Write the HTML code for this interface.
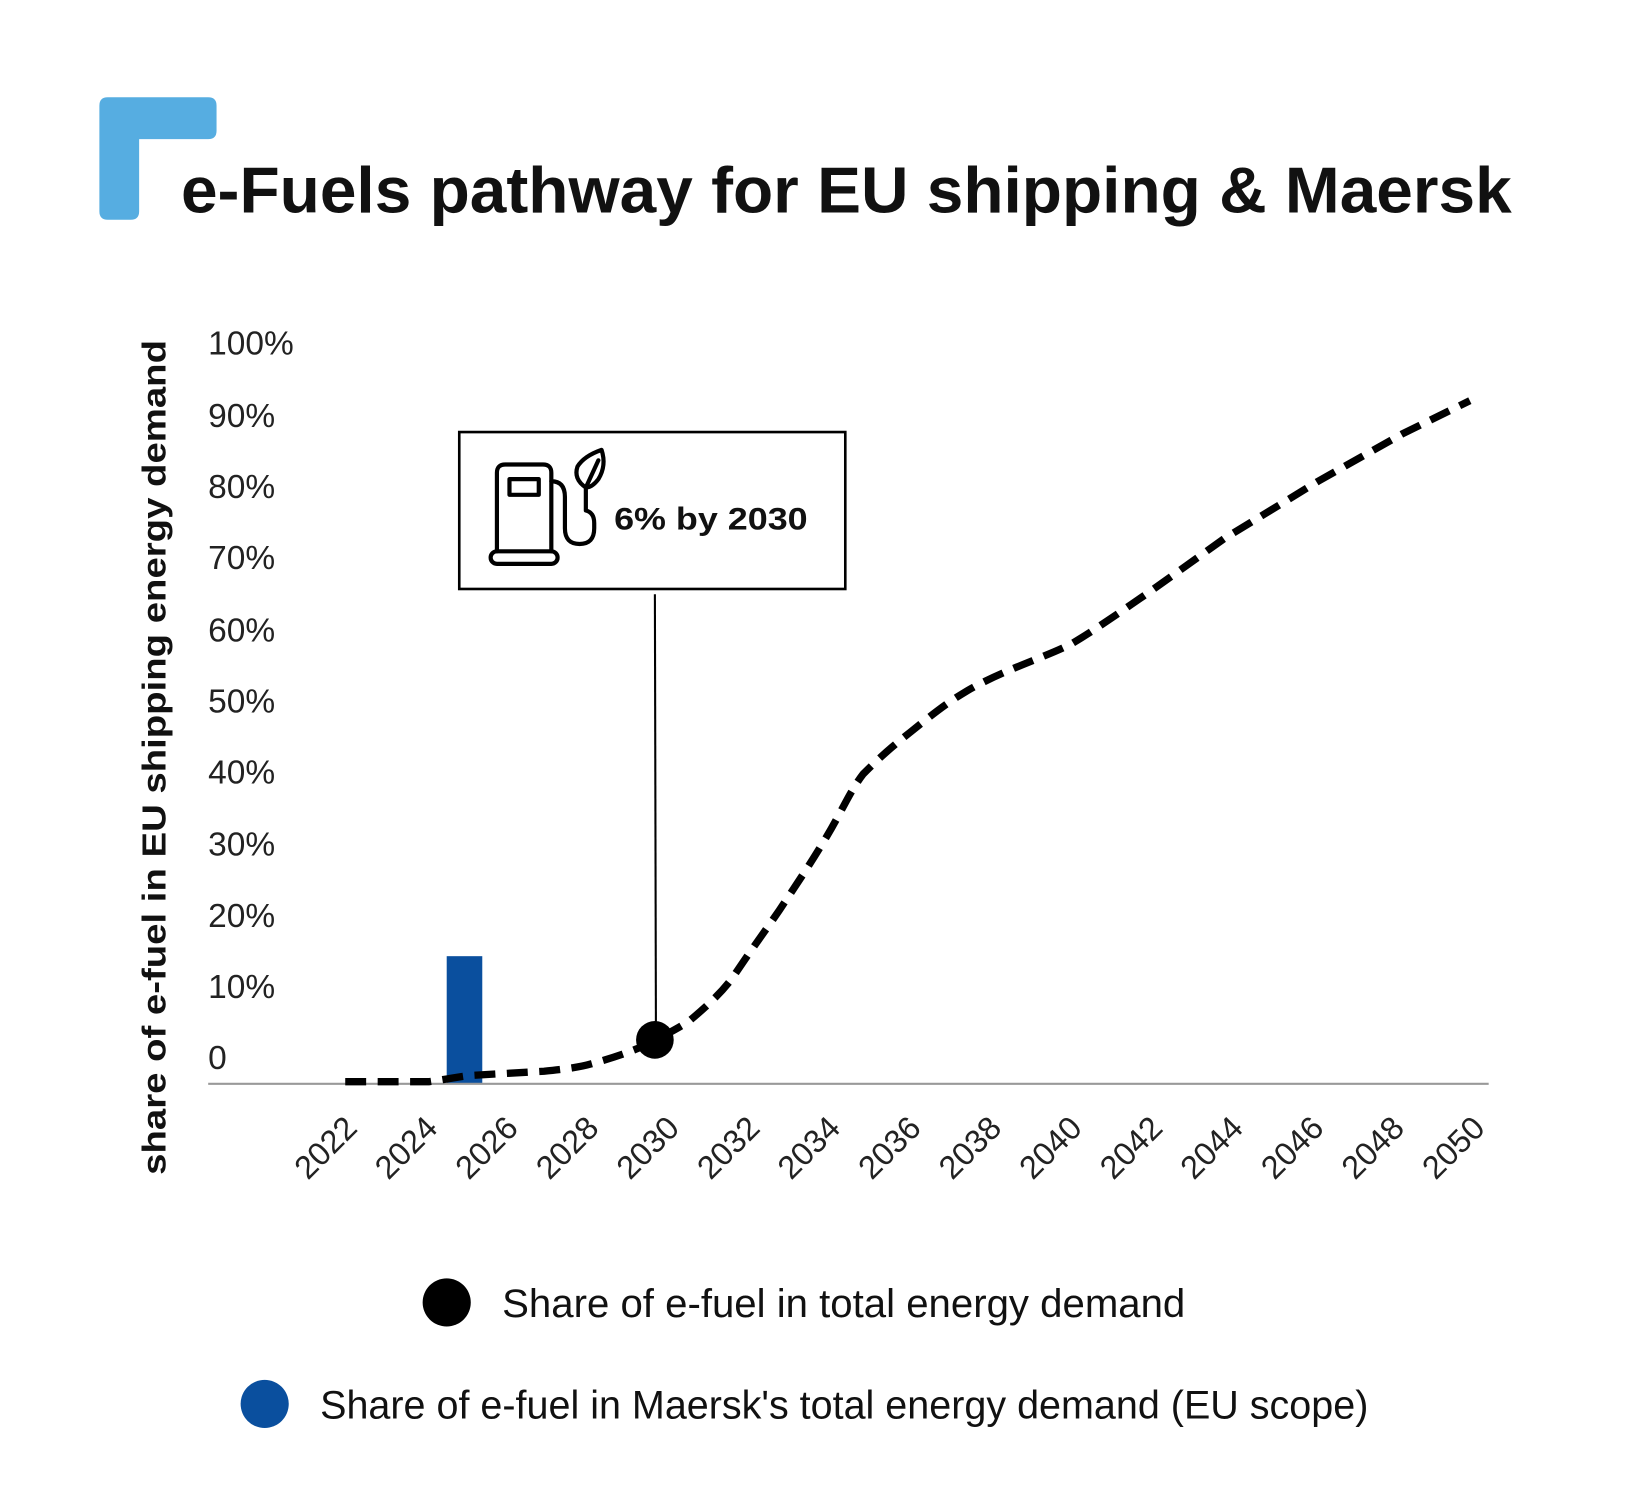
<!DOCTYPE html>
<html><head><meta charset="utf-8"><style>html,body{margin:0;padding:0;background:#fff}svg{display:block}</style></head>
<body>
<svg width="1632" height="1485" viewBox="0 0 1560 1419.5" preserveAspectRatio="none" xmlns="http://www.w3.org/2000/svg" font-family="Liberation Sans, sans-serif">
<rect width="1560" height="1420" fill="#fff"/>
<path d="M103 93 H199 Q207 93 207 101 V125 Q207 133 199 133 H133 V202 Q133 210 125 210 H103 Q95 210 95 202 V101 Q95 93 103 93 Z" fill="#56ade1"/>
<text x="173" y="203" font-size="62" font-weight="bold" fill="#111" textLength="1272" lengthAdjust="spacingAndGlyphs">e-Fuels pathway for EU shipping &amp; Maersk</text>
<text transform="translate(158,1123) rotate(-90)" font-size="32" font-weight="bold" fill="#111" textLength="798" lengthAdjust="spacingAndGlyphs">share of e-fuel in EU shipping energy demand</text>
<g font-size="32" fill="#222">
<text x="199" y="339">100%</text>
<text x="199" y="408">90%</text>
<text x="199" y="476">80%</text>
<text x="199" y="544">70%</text>
<text x="199" y="613">60%</text>
<text x="199" y="681">50%</text>
<text x="199" y="749">40%</text>
<text x="199" y="818">30%</text>
<text x="199" y="886">20%</text>
<text x="199" y="954">10%</text>
<text x="199" y="1022">0</text>
</g>
<g font-size="31" fill="#222" text-anchor="end">
<text transform="translate(343,1080) rotate(-45)">2022</text>
<text transform="translate(420,1080) rotate(-45)">2024</text>
<text transform="translate(497,1080) rotate(-45)">2026</text>
<text transform="translate(574,1080) rotate(-45)">2028</text>
<text transform="translate(651,1080) rotate(-45)">2030</text>
<text transform="translate(728,1080) rotate(-45)">2032</text>
<text transform="translate(805,1080) rotate(-45)">2034</text>
<text transform="translate(882,1080) rotate(-45)">2036</text>
<text transform="translate(959,1080) rotate(-45)">2038</text>
<text transform="translate(1036,1080) rotate(-45)">2040</text>
<text transform="translate(1113,1080) rotate(-45)">2042</text>
<text transform="translate(1190,1080) rotate(-45)">2044</text>
<text transform="translate(1267,1080) rotate(-45)">2046</text>
<text transform="translate(1344,1080) rotate(-45)">2048</text>
<text transform="translate(1421,1080) rotate(-45)">2050</text>
</g>
<rect x="427" y="914" width="34" height="122" fill="#0a4f9e"/>
<line x1="199" y1="1036" x2="1423" y2="1036" stroke="#999" stroke-width="2"/>
<path d="M330 1034 L410 1034 C430 1031 440 1029 450 1028 L520 1024 C540 1022 555 1020 565 1017 C590 1010 610 1003 625 995 C640 987 650 982 660 975 C680 958 690 948 700 935 C720 905 730 892 745 870 C765 840 775 825 790 800 C805 775 812 757 825 740 C845 720 855 712 870 700 C895 680 905 672 925 660 C960 640 1000 628 1025 615 C1050 600 1075 582 1100 565 L1170 515 L1260 460 L1340 415 L1405 383" fill="none" stroke="#000" stroke-width="7" stroke-dasharray="20 11"/>
<line x1="626" y1="568" x2="627" y2="990" stroke="#000" stroke-width="2"/>
<circle cx="626" cy="994" r="18" fill="#000"/>
<rect x="439" y="413" width="369" height="150" fill="#fff" stroke="#000" stroke-width="2.5"/>
<g fill="none" stroke="#000" stroke-width="4" stroke-linecap="round" stroke-linejoin="round">
<path d="M475 527 V452 Q475 444 483 444 H519 Q527 444 527 452 V527"/>
<rect x="487" y="458" width="28" height="15"/>
<rect x="469" y="527" width="64" height="12" rx="6"/>
<path d="M527 460 Q540 460 540 475 V505 Q540 520 554 520 Q568 520 568 505 V500 Q568 490 560 488 V466"/>
<path d="M560 466 Q548 458 552 446 Q558 436 575 430 Q580 445 572 458 Q566 466 560 466 Z"/>
<path d="M560 466 L572 440"/>
</g>
<text x="587" y="506" font-size="30" font-weight="bold" fill="#111" textLength="185" lengthAdjust="spacingAndGlyphs">6% by 2030</text>
<circle cx="427" cy="1245" r="23" fill="#000"/>
<text x="480" y="1259" font-size="38" fill="#111" textLength="653" lengthAdjust="spacingAndGlyphs">Share of e-fuel in total energy demand</text>
<circle cx="253" cy="1342" r="23" fill="#0a4f9e"/>
<text x="306" y="1356" font-size="38" fill="#111" textLength="1002" lengthAdjust="spacingAndGlyphs">Share of e-fuel in Maersk's total energy demand (EU scope)</text>
</svg>
</body></html>
